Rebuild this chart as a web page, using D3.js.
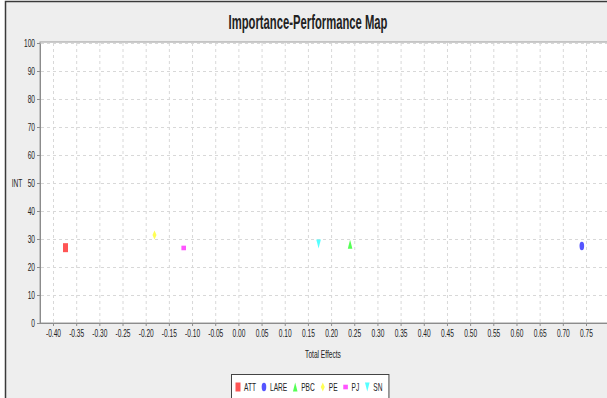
<!DOCTYPE html>
<meta charset="utf-8">
<style>
body, html { margin: 0; padding: 0; background: #fff; }
text { font-family: "Liberation Sans", Arial, sans-serif; fill: #222; }
.grid line { stroke: #d8d8d8; stroke-dasharray: 3,3; }
.axis path, .axis line { stroke: #8c8c8c; }
.axis text { font-size: 11px; fill: #222; }
</style>
<svg></svg>
<script src="https://d3js.org/d3.v7.min.js"></script>
<script>

var constructs = ['ATT', 'LARE', 'PBC', 'PE', 'PJ', 'SN'];
var totalEffects = [-0.373, 0.741, 0.241, -0.181, -0.118, 0.173];
var performance = [26.9, 27.5, 28.1, 31.4, 26.8, 28.2];
var colors = ['#ff5555', '#5555ff', '#55ff55', '#ffff55', '#ff55ff', '#55ffff'];

var xTicks = [-0.40, -0.35, -0.30, -0.25, -0.20, -0.15, -0.10, -0.05, 0.00, 0.05, 0.10, 0.15,
  0.20, 0.25, 0.30, 0.35, 0.40, 0.45, 0.50, 0.55, 0.60, 0.65, 0.70, 0.75];
var yTicks = [0, 10, 20, 30, 40, 50, 60, 70, 80, 90, 100];

var W = 607, H = 398;
var sx = 0.6; // the original picture is squeezed horizontally
var plot = {left: 40, top: 42, right: 612, bottom: 323};

var svg = d3.select('svg').attr('width', W).attr('height', H);

// window frame + background
svg.append('rect').attr('x', 5.5).attr('y', 1.5).attr('width', 700).attr('height', 500)
  .attr('fill', '#eeeeee').attr('stroke', '#3a3a3a').attr('stroke-width', 1.5);

var x = d3.scaleLinear().domain([-0.40, 0.75]).range([53, 586]);
var y = d3.scaleLinear().domain([0, 100]).range([plot.bottom, 43]);

svg.append('rect')
  .attr('x', plot.left).attr('y', plot.top)
  .attr('width', plot.right - plot.left).attr('height', plot.bottom - plot.top)
  .attr('fill', '#fff').attr('stroke', '#9a9a9a');

// grid
var grid = svg.append('g').attr('class', 'grid');
grid.selectAll('.vx').data(xTicks).enter().append('line')
  .attr('x1', d => x(d) + 0.5).attr('x2', d => x(d) + 0.5)
  .attr('y1', plot.top + 1).attr('y2', plot.bottom);
grid.selectAll('.hy').data(yTicks.slice(1)).enter().append('line')
  .attr('y1', d => Math.round(y(d)) + 0.5).attr('y2', d => Math.round(y(d)) + 0.5)
  .attr('x1', plot.left + 1).attr('x2', plot.right);

// axes
var xAxis = svg.append('g').attr('class', 'axis')
  .attr('transform', 'translate(0,' + plot.bottom + ')')
  .call(d3.axisBottom(x).tickValues(xTicks).tickSize(3).tickSizeOuter(0)
    .tickFormat(d => d.toFixed(2)));
xAxis.select('.domain').attr('d', 'M' + plot.left + ',0.5H' + plot.right);
xAxis.selectAll('text').attr('transform', 'scale(' + sx + ',1)');

var yAxis = svg.append('g').attr('class', 'axis')
  .attr('transform', 'translate(' + plot.left + ',0)')
  .call(d3.axisLeft(y).tickValues(yTicks).tickSize(3).tickSizeOuter(0).tickPadding(2));
yAxis.selectAll('text').attr('x', -5 / sx).attr('transform', 'scale(' + sx + ',1)');

// title and axis labels
var title = svg.append('text')
  .attr('text-anchor', 'middle').attr('font-weight', 'bold').attr('font-size', 21)
  .attr('fill', '#000').text('Importance-Performance Map');
var tw = title.node().getComputedTextLength();
title.attr('transform', 'translate(308,29) scale(' + (159 / tw) + ',1)');

svg.append('text').attr('text-anchor', 'middle').attr('font-size', 11)
  .attr('transform', 'translate(323,358) scale(' + sx + ',1)').text('Total Effects');
svg.append('text').attr('text-anchor', 'middle').attr('font-size', 11)
  .attr('transform', 'translate(17,187) scale(' + sx + ',1)').text('INT');

// marker shapes (tall, because of the horizontal squeeze)
function shapePath(i) {
  switch (i) {
    case 0: return 'M-2.5,-4.5h5v9h-5z';
    case 1: return 'M0,-4.2A2.3,4.2 0 1,1 0,4.2A2.3,4.2 0 1,1 0,-4.2z';
    case 2: return 'M0,-4.5L2.3,4.5L-2.3,4.5z';
    case 3: return 'M0,-4.5L2,0L0,4.5L-2,0z';
    case 4: return 'M-2.3,-2.3h4.6v4.6h-4.6z';
    default: return 'M-2.3,-4.5L2.3,-4.5L0,4.5z';
  }
}

var pts = constructs.map((c, i) => ({name: c, x: totalEffects[i], y: performance[i], i: i}));

svg.append('g').selectAll('path').data(pts).enter().append('path')
  .attr('d', d => shapePath(d.i))
  .attr('transform', d => 'translate(' + x(d.x) + ',' + y(d.y) + ')')
  .attr('fill', d => colors[d.i]);

// legend
var legend = svg.append('g');
var lgBox = legend.append('rect').attr('x', 231.5).attr('y', 374.5)
  .attr('height', 40).attr('fill', '#fff').attr('stroke', '#444');
var lx = 238;
constructs.forEach(function (c, i) {
  legend.append('path').attr('d', shapePath(i))
    .attr('transform', 'translate(' + lx + ',387)').attr('fill', colors[i]);
  var t = legend.append('text').attr('font-size', 11)
    .attr('transform', 'translate(' + (lx + 6) + ',391) scale(' + sx + ',1)').text(c);
  lx += 6 + t.node().getComputedTextLength() * sx + 8;
});
lgBox.attr('width', lx - 231 - 2);

</script>
